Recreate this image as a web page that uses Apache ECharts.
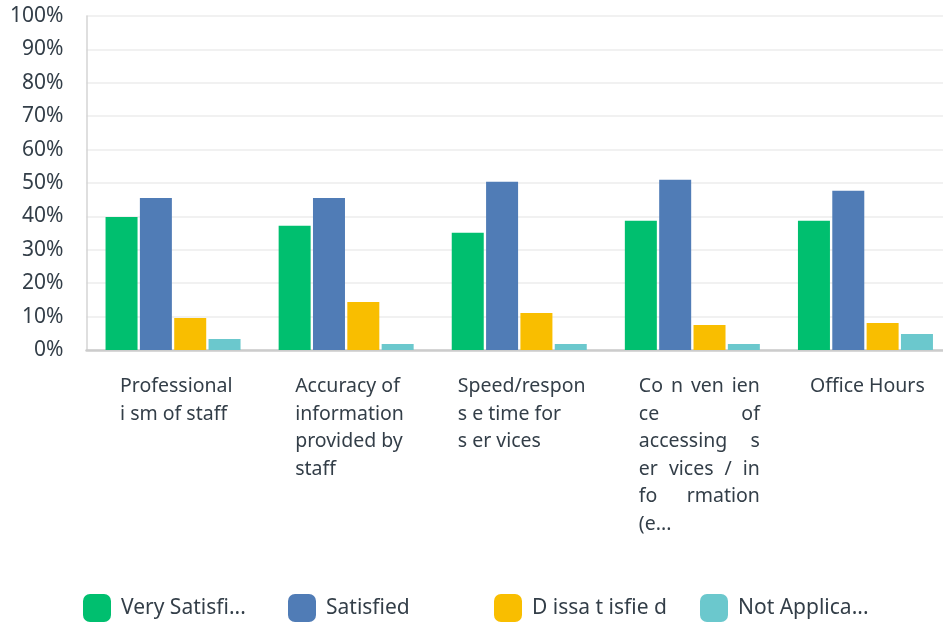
<!DOCTYPE html>
<html>
<head>
<meta charset="utf-8">
<style>
  html, body { margin: 0; padding: 0; background: #ffffff; overflow: hidden; }
  /* the plot area runs on past the right edge of the page */
  #chart { width: 952px; height: 622px; }
</style>
<script src="https://cdn.jsdelivr.net/npm/echarts@6/dist/echarts.min.js"></script>
</head>
<body>
<div id="chart"></div>
<script>
// Survey question rows (label lines as they are printed under each group)
const categories = [
  ['Professional', 'i sm of staff'],
  ['Accuracy of', 'information', 'provided by', 'staff'],
  ['Speed/respon', 's e time for', 's er vices'],
  ['Co n ven ien', 'ce of', 'accessing s', 'er vices / in', 'fo rmation', '(e...'],
  ['Office Hours']
];
// Which label blocks are set justified
const justified = [false, false, false, true, false];

const seriesNames = ['Very Satisfi...', 'Satisfied', 'D issa t isfie d', 'Not Applica...'];

// Share of responses, percent
const verySatisfied = [39.8, 37.2, 35.1, 38.7, 38.7];
const satisfied     = [45.5, 45.5, 50.4, 51.0, 47.7];
const dissatisfied  = [9.6, 14.4, 11.1, 7.5, 8.1];
const notApplicable = [3.3, 1.8, 1.8, 1.8, 4.8];

const yTicks = { min: 0, max: 100, interval: 10 };

const colors = ['#00bf6f', '#507cb6', '#f9be00', '#6bc8cd'];
const textColor = '#333e48';
const FONT = '"Noto Sans", "Open Sans", sans-serif';
const LABEL_SIZE = 19.5;

// x label blocks: text width and offset of the text's left edge from the band centre
const blockWidths = [107, 103, 130, 121, 117];
const blockOffsets = [-53.5, -51.5, -61.5, -53.5, -55.5];

const lineStyle = { fontSize: LABEL_SIZE, fontFamily: FONT, color: textColor, lineHeight: 27.5 };

// measure words so justified lines can be spread over the full block width
const measureCtx = document.createElement('canvas').getContext('2d');
measureCtx.font = LABEL_SIZE + 'px ' + FONT;
function textWidth(s) { return measureCtx.measureText(s).width; }

const rich = {};
let styleCount = 0;
function token(text, width) {
  const key = 't' + (styleCount++);
  rich[key] = Object.assign({ width: width, align: 'left' }, lineStyle);
  return '{' + key + '|' + text + '}';
}

const formattedLabels = categories.map(function (lines, index) {
  const w = blockWidths[index];
  const sp = Math.max(1, 2 * blockOffsets[index] + w);
  return lines.map(function (line, li) {
    const pre = token(' ', sp);
    if (justified[index] && li < lines.length - 1) {
      const words = line.split(' ');
      const used = words.reduce(function (a, s) { return a + textWidth(s); }, 0);
      const gap = (w - used) / (words.length - 1);
      return pre + words.map(function (s, k) {
        return token(s, textWidth(s) + (k < words.length - 1 ? gap : 0));
      }).join('');
    }
    return pre + token(line, w);
  }).join('\n');
});

const chart = echarts.init(document.getElementById('chart'), null, { renderer: 'canvas' });

const dataSets = [verySatisfied, satisfied, dissatisfied, notApplicable];
const legendLefts = [83, 288, 494, 700];

chart.setOption({
  animation: false,
  color: colors,
  textStyle: { fontFamily: FONT },
  grid: { left: 86.5, top: 16, right: 0, height: 334, containLabel: false },
  legend: seriesNames.map(function (name, i) {
    return {
      left: legendLefts[i],
      top: 594,
      padding: 0,
      itemWidth: 28,
      itemHeight: 28,
      icon: 'roundRect',
      data: [name],
      textStyle: {
        color: textColor,
        fontSize: 21,
        fontFamily: FONT,
        padding: [0, 0, 0, 5]
      }
    };
  }),
  xAxis: {
    type: 'category',
    data: categories.map(function (c) { return c.join(' '); }),
    axisTick: { show: false },
    axisLine: { show: true, lineStyle: { color: '#cccccc', width: 2.5 } },
    axisLabel: {
      interval: 0,
      margin: 23,
      align: 'center',
      verticalAlign: 'top',
      formatter: function (value, index) { return formattedLabels[index]; },
      rich: rich
    }
  },
  yAxis: {
    type: 'value',
    min: yTicks.min,
    max: yTicks.max,
    interval: yTicks.interval,
    axisLine: { show: true, lineStyle: { color: '#d4d4d4', width: 1.5 } },
    axisTick: { show: false },
    splitLine: { show: true, lineStyle: { color: '#ececec', width: 1.5 } },
    axisLabel: {
      formatter: '{value}%',
      color: textColor,
      fontSize: 21,
      fontFamily: FONT,
      margin: 23
    }
  },
  series: seriesNames.map(function (name, i) {
    return {
      name: name,
      type: 'bar',
      data: dataSets[i],
      barWidth: 32,
      barGap: '7.3%',
      itemStyle: { color: colors[i] }
    };
  })
});
</script>
</body>
</html>
